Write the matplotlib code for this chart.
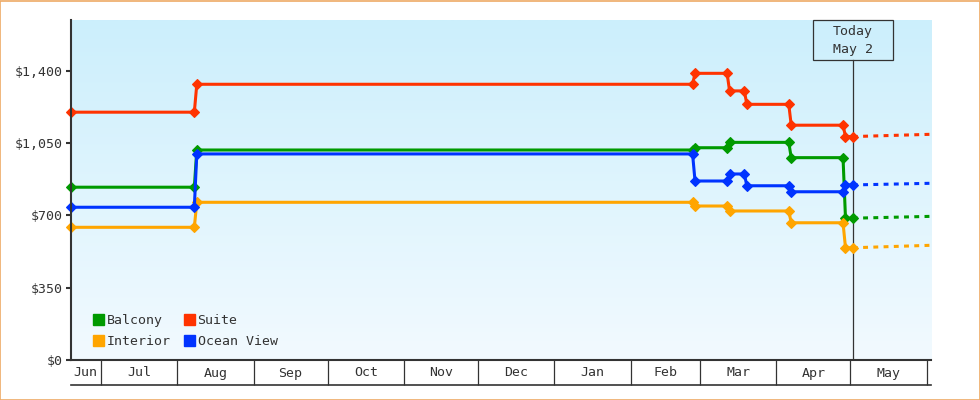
import numpy as np
import pandas as pd
import matplotlib
matplotlib.use("Agg")
import matplotlib.pyplot as plt
import matplotlib.dates as mdates
from matplotlib.patches import Rectangle, Patch
from matplotlib.colors import LinearSegmentedColormap

plt.rcParams['font.family'] = ['DejaVu Sans Mono', 'DejaVu Sans']

# price history per cabin type (dates where the fare changed)
balcony_dates = ["2022-06-19", "2022-08-08", "2022-08-09", "2023-02-26", "2023-02-27",
                 "2023-03-12", "2023-03-13", "2023-04-06", "2023-04-07",
                 "2023-04-28", "2023-04-29", "2023-05-02"]
balcony_prices = [836, 836, 1016, 1016, 1027, 1027, 1053, 1053, 979, 979, 686, 686]

suite_dates = ["2022-06-19", "2022-08-08", "2022-08-09", "2023-02-26", "2023-02-27",
               "2023-03-12", "2023-03-13", "2023-03-19", "2023-03-20",
               "2023-04-06", "2023-04-07", "2023-04-28", "2023-04-29", "2023-05-02"]
suite_prices = [1199, 1199, 1334, 1334, 1387, 1387, 1302, 1302, 1237,
                1237, 1136, 1136, 1081, 1081]

interior_dates = ["2022-06-19", "2022-08-08", "2022-08-09", "2023-02-26", "2023-02-27",
                  "2023-03-12", "2023-03-13", "2023-04-06", "2023-04-07",
                  "2023-04-28", "2023-04-29", "2023-05-02"]
interior_prices = [642, 642, 763, 763, 745, 745, 721, 721, 664, 664, 543, 543]

ocean_dates = ["2022-06-19", "2022-08-08", "2022-08-09", "2023-02-26", "2023-02-27",
               "2023-03-12", "2023-03-13", "2023-03-19", "2023-03-20",
               "2023-04-06", "2023-04-07", "2023-04-28", "2023-04-29", "2023-05-02"]
ocean_prices = [739, 739, 997, 997, 866, 866, 900, 900, 843,
                843, 814, 814, 847, 847]

# projected price at the end of the window (dotted)
forecast_end = "2023-06-02 16:00"
balcony_forecast = 695
suite_forecast = 1092
interior_forecast = 555
ocean_forecast = 855

today = "2023-05-02"
today_label = ["Today", "May 2"]

month_labels = ["Jun", "Jul", "Aug", "Sep", "Oct", "Nov", "Dec",
                "Jan", "Feb", "Mar", "Apr", "May"]
month_starts = pd.date_range("2022-06-01", periods=13, freq="MS")

y_ticks = [0, 350, 700, 1050, 1400]
y_labels = ["$0", "$350", "$700", "$1,050", "$1,400"]

series = [
    ("Balcony", balcony_dates, balcony_prices, balcony_forecast, "#009a00"),
    ("Interior", interior_dates, interior_prices, interior_forecast, "#ffa500"),
    ("Suite", suite_dates, suite_prices, suite_forecast, "#ff3300"),
    ("Ocean View", ocean_dates, ocean_prices, ocean_forecast, "#0033ff"),
]

ink = "#333333"
fig = plt.figure(figsize=(9.8, 4.0), dpi=100)
ax = fig.add_axes([71 / 980, 40 / 400, 860 / 980, 340 / 400])

x0 = pd.Timestamp("2022-06-19")
x1 = pd.Timestamp(forecast_end)
ax.set_xlim(x0, x1)
ax.set_ylim(0, 1645)

# background gradient
cmap = LinearSegmentedColormap.from_list("bg", ["#f2faff", "#cceffc"])
grad = np.linspace(0, 1, 256).reshape(-1, 1)
ax.imshow(grad, cmap=cmap, aspect="auto", origin="lower",
          extent=[0, 1, 0, 1], transform=ax.transAxes, zorder=0)

# today marker line and box
ax.axvline(pd.Timestamp(today), ymin=0, ymax=1 - 40 / 340, color=ink, lw=0.9, zorder=1)
tfrac = (mdates.date2num(pd.Timestamp(today)) - mdates.date2num(x0)) / \
        (mdates.date2num(x1) - mdates.date2num(x0))
bw, bh = 80 / 860, 40 / 340
ax.add_patch(Rectangle((tfrac - bw / 2, 1 - bh), bw, bh, transform=ax.transAxes,
                       fill=False, ec=ink, lw=0.9, clip_on=False, zorder=5))
ax.text(tfrac, 1 - 12 / 340, today_label[0], transform=ax.transAxes,
        ha="center", va="center", fontsize=9.5, color=ink)
ax.text(tfrac, 1 - 30 / 340, today_label[1], transform=ax.transAxes,
        ha="center", va="center", fontsize=9.5, color=ink)

handles = []
for name, dates, prices, fc, color in series:
    d = pd.to_datetime(dates)
    ax.plot(d, prices, color=color, lw=2.2, marker="D", ms=4.9, mew=0.8,
            clip_on=False, zorder=3)
    ax.plot([d[-1], x1], [prices[-1], fc], color=color, lw=2.2,
            ls=(0, (1.6, 1.75)), zorder=2)
    handles.append(Patch(color=color, label=name))

ax.legend(handles=handles, ncol=2, loc="lower left", bbox_to_anchor=(0.0175, 0.016),
          frameon=False, fontsize=9.5, handlelength=0.85, handleheight=0.85,
          handletextpad=0.2, columnspacing=1.0, labelspacing=0.6, borderpad=0,
          labelcolor=ink)

# axes styling
for s in ["top", "right"]:
    ax.spines[s].set_visible(False)
for s in ["left", "bottom"]:
    ax.spines[s].set_color(ink)
    ax.spines[s].set_linewidth(1.5)
ax.spines["left"].set_zorder(4)

ax.set_yticks(y_ticks)
ax.set_yticklabels(y_labels)
ax.tick_params(axis="y", length=3.8, width=1.5, color=ink, labelsize=9.5,
               labelcolor=ink, pad=2)

ax.set_xticks(month_starts[1:])
ax.set_xticklabels([])
ax.tick_params(axis="x", length=18, width=0.9, color=ink, direction="out")

lo, hi = mdates.date2num(x0), mdates.date2num(x1)
for i, lab in enumerate(month_labels):
    a = max(mdates.date2num(month_starts[i]), lo)
    b = min(mdates.date2num(month_starts[i + 1]), hi)
    ax.text((a + b) / 2, -13 / 340, lab, transform=ax.get_xaxis_transform(),
            ha="center", va="center", fontsize=9.5, color=ink)
ax.plot([0, 1], [-25 / 340, -25 / 340], transform=ax.transAxes, color=ink,
        lw=1.2, clip_on=False)

# outer border
fig.patches.append(Rectangle((0.0005, 0.001), 0.999, 0.9975, transform=fig.transFigure,
                             fill=False, ec="#eeaa66", lw=1.2))

fig.savefig("out.png", dpi=100)
